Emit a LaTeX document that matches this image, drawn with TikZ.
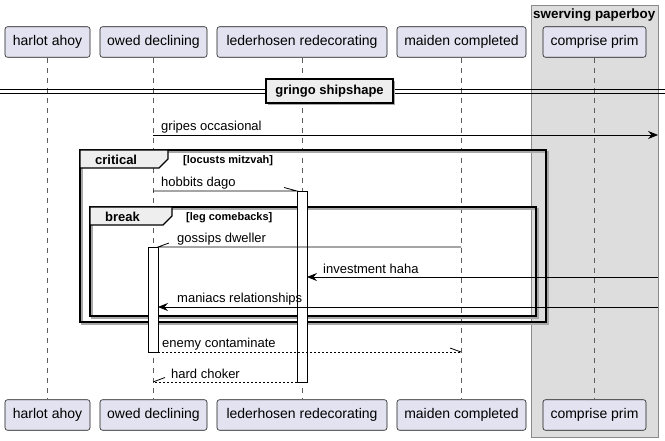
\documentclass[tikz,border=0pt]{standalone}
\usepackage{fontspec}
\setmainfont{Liberation Sans}
\usetikzlibrary{arrows.meta}
\definecolor{partfill}{HTML}{E2E2F0}
\definecolor{partdraw}{HTML}{181818}
\definecolor{grpfill}{HTML}{DDDDDD}
\definecolor{grpdraw}{HTML}{8A8A8A}
\definecolor{tabfill}{HTML}{EEEEEE}
\definecolor{shadowc}{HTML}{A8A8A8}
\tikzset{
  part/.style={draw=partdraw, fill=partfill, line width=0.6pt, rounded corners=2.5pt,
    minimum height=30.5pt, inner sep=0pt, font=\fontsize{14}{16}\selectfont},
  life/.style={draw=partdraw!70, line width=0.5pt, dash pattern=on 5pt off 5pt},
  msg/.style={line width=0.8pt, draw=black},
  dmsg/.style={msg, dash pattern=on 2pt off 2pt},
  fhead/.style={-{Stealth[length=10pt,width=8pt,inset=3.5pt]}},
  mlabel/.style={anchor=base west, inner sep=0pt, font=\fontsize{13}{15}\selectfont},
  framebox/.style={draw=black, line width=1.4pt},
  frameshadow/.style={draw=shadowc, line width=1.6pt},
  tabbox/.style={draw=black, fill=tabfill, line width=1.2pt},
  tabtitle/.style={anchor=west, inner sep=0pt, font=\fontsize{13}{15}\selectfont\bfseries},
  tabcond/.style={anchor=west, inner sep=0pt, font=\fontsize{11}{13}\selectfont\bfseries},
  actbox/.style={draw=black, fill=white, line width=0.8pt},
}
\begin{document}
\begin{tikzpicture}[x=1pt,y=-1pt]
\useasboundingbox (0,0) rectangle (665,441);
% box group
\draw[fill=grpfill, draw=grpdraw, line width=0.6pt] (531,5) rectangle (658,437);
\node[anchor=west, inner sep=0pt, font=\fontsize{13.4}{15}\selectfont\bfseries] (grpt) at (533,15) {swerving paperboy};
% participants top
\node[part, minimum width=85pt] (hT) at (47.5,42) {harlot ahoy};
\node[part, minimum width=107pt] (oT) at (153.5,42) {owed declining};
\node[part, minimum width=170pt] (lT) at (302,42) {lederhosen redecorating};
\node[part, minimum width=129pt] (mT) at (461.5,42) {maiden completed};
\node[part, minimum width=103pt] (cT) at (594.5,42) {comprise prim};
% participants bottom
\node[part, minimum width=85pt] (hB) at (47.5,415) {harlot ahoy};
\node[part, minimum width=107pt] (oB) at (153.5,415) {owed declining};
\node[part, minimum width=170pt] (lB) at (302,415) {lederhosen redecorating};
\node[part, minimum width=129pt] (mB) at (461.5,415) {maiden completed};
\node[part, minimum width=103pt] (cB) at (594.5,415) {comprise prim};
% lifelines
\draw[life] (hT.south) -- (hB.north);
\draw[life] (oT.south) -- (oB.north);
\draw[life] (lT.south) -- (lB.north);
\draw[life] (mT.south) -- (mB.north);
\draw[life] (cT.south) -- (cB.north);
% divider
\coordinate (dl1) at (0,89); \coordinate (dr1) at (665,89);
\coordinate (dl2) at (0,93); \coordinate (dr2) at (665,93);
\draw[line width=0.9pt] (dl1) -- (dr1);
\draw[line width=0.9pt] (dl2) -- (dr2);
\fill[shadowc] (268,81) rectangle (395,105);
\node[draw=black, fill=tabfill, line width=1.4pt, minimum width=127pt, minimum height=24pt, inner sep=0pt,
  font=\fontsize{13}{15}\selectfont\bfseries] (div) at (329.5,91) {gringo shipshape};
% frames
\draw[frameshadow] (82,152) rectangle (548,324);
\draw[framebox] (80,150) rectangle (546,322);
\draw[tabbox] (80,150) -- (168,150) -- (168,159) -- (159,168) -- (80,168) -- cycle;
\node[tabtitle] (crit) at (95,160) {critical};
\node[tabcond] (critc) at (183,160.5) {[locusts mitzvah]};
\draw[frameshadow] (92,209) rectangle (538,318);
\draw[framebox] (90,207) rectangle (536,316);
\draw[tabbox] (90,207) -- (172,207) -- (172,216) -- (163,225) -- (90,225) -- cycle;
\node[tabtitle] (brk) at (105,217) {break};
\node[tabcond] (brkc) at (186,217.5) {[leg comebacks]};
% activations
\node[actbox, minimum width=10pt, minimum height=191pt, inner sep=0pt] (actL) at (302,286.5) {};
\node[actbox, minimum width=10pt, minimum height=105pt, inner sep=0pt] (actO) at (153,299.5) {};
% messages
\coordinate (m1s) at (153,135); \coordinate (m1e) at (658,135);
\draw[msg, fhead] (m1s) -- (m1e);
\node[mlabel] (t1) at (161,131) {gripes occasional};

\coordinate (m2s) at (153,191); \coordinate (m2e) at (297,191);
\draw[msg] (m2s) -- (m2e) -- ++(-13,-3.5);
\node[mlabel] (t2) at (161,187) {hobbits dago};

\coordinate (m3s) at (461,247); \coordinate (m3e) at (158,247);
\draw[msg] (m3s) -- (m3e) -- ++(11,-4);
\node[mlabel] (t3) at (177,243) {gossips dweller};

\coordinate (m4s) at (658,277); \coordinate (m4e) at (307,277);
\draw[msg, fhead] (m4s) -- (m4e);
\node[mlabel] (t4) at (323,273) {investment haha};

\coordinate (m5s) at (658,307); \coordinate (m5e) at (158,307);
\draw[msg, fhead] (m5s) -- (m5e);
\node[mlabel] (t5) at (177,303) {maniacs relationships};

\coordinate (m6s) at (158,352); \coordinate (m6e) at (461,352);
\draw[dmsg] (m6s) -- (m6e);
\draw[msg] (m6e) -- ++(-11,-4);
\node[mlabel] (t6) at (162,348) {enemy contaminate};

\coordinate (m7s) at (297,382); \coordinate (m7e) at (153,382);
\draw[dmsg] (m7s) -- (m7e);
\draw[msg] (m7e) -- ++(12,-4.5);
\node[mlabel] (t7) at (171,378) {hard choker};
\end{tikzpicture}
\end{document}
